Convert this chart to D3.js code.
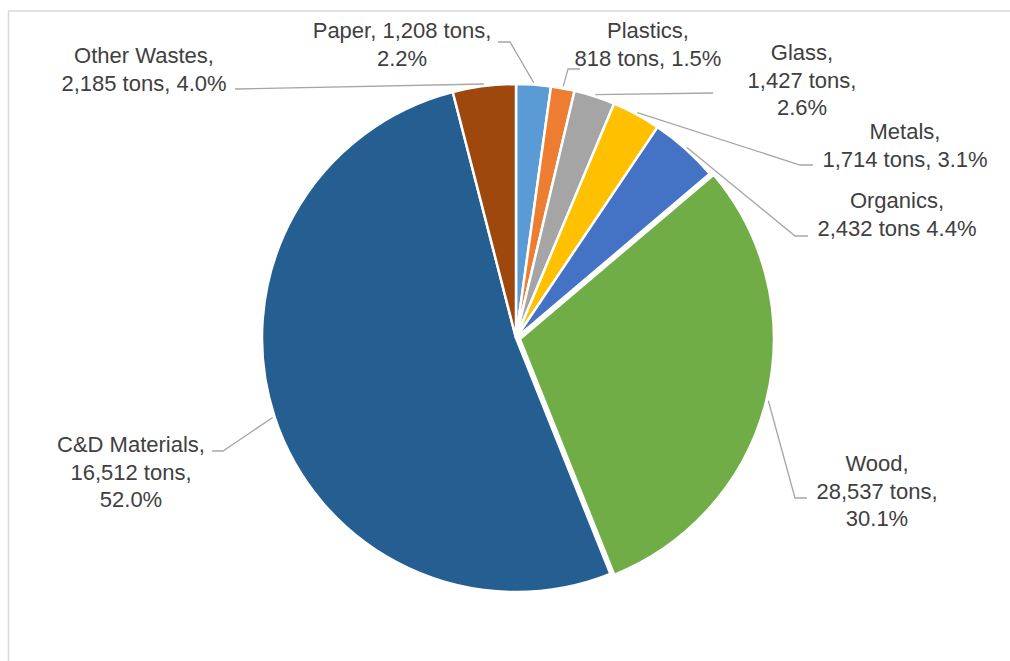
<!DOCTYPE html>
<html>
<head>
<meta charset="utf-8">
<script src="https://cdn.jsdelivr.net/npm/d3@7/dist/d3.min.js"></script>
<style>
  html, body { margin: 0; padding: 0; background: #ffffff; }
  svg { display: block; }
  text { font-family: "Liberation Sans", Arial, sans-serif; font-size: 22px; fill: #404040; }
</style>
</head>
<body>
<svg id="chart" width="1010" height="661"></svg>
<script>
// Waste composition by material
const categories = ["Paper", "Plastics", "Glass", "Metals", "Organics", "Wood", "C&D Materials", "Other Wastes"];
const tons = [1208, 818, 1427, 1714, 2432, 28537, 16512, 2185];
const percents = [2.2, 1.5, 2.6, 3.1, 4.4, 30.1, 52.0, 4.0];
const colors = ["#5B9BD5", "#ED7D31", "#A5A5A5", "#FFC000", "#4472C4", "#70AD47", "#255E91", "#9E480E"];

// How each label breaks into lines: {n} = name, {t} = tonnage, {p} = percent
const labelPatterns = [
  ["{n}, {t},", "{p}"],
  ["{n},", "{t}, {p}"],
  ["{n},", "{t},", "{p}"],
  ["{n},", "{t}, {p}"],
  ["{n},", "{t} {p}"],
  ["{n},", "{t},", "{p}"],
  ["{n},", "{t},", "{p}"],
  ["{n},", "{t}, {p}"]
];

// Label placement: text centre x, first baseline y, leader start and elbow
const labelLayout = [
  { x: 402, y: 38, start: [498, 42], elbow: [510, 42] },
  { x: 648, y: 38, start: [580, 69], elbow: [568, 69] },
  { x: 802, y: 60, start: [713, 93], elbow: null },
  { x: 905, y: 139, start: [813, 165], elbow: [800, 165] },
  { x: 897, y: 208, start: [808, 236], elbow: [795, 236] },
  { x: 877, y: 471, start: [807, 498], elbow: [795, 498] },
  { x: 131, y: 452, start: [212, 451], elbow: [223, 451] },
  { x: 144, y: 63, start: [235, 89], elbow: null }
];

const width = 1010, height = 661;
const cx = 516, cy = 338, radius = 254;
const explodeIndex = 5, explodeDist = 4;
const lineHeight = 27.5;

const svg = d3.select("#chart");

// Chart area frame
svg.append("rect")
  .attr("x", 8.5).attr("y", 11)
  .attr("width", width + 10).attr("height", height + 10)
  .attr("fill", "none")
  .attr("stroke", "#d9d9d9")
  .attr("stroke-width", 1.5);

const data = categories.map((c, i) => ({ name: c, tons: tons[i], pct: percents[i], color: colors[i], i }));

const pie = d3.pie().sort(null).value(d => d.pct);
const arcs = pie(data);
const arc = d3.arc().innerRadius(0).outerRadius(radius);

const g = svg.append("g").attr("transform", `translate(${cx},${cy})`);

g.selectAll("path.slice")
  .data(arcs)
  .join("path")
  .attr("class", "slice")
  .attr("d", arc)
  .attr("fill", d => d.data.color)
  .attr("stroke", "#ffffff")
  .attr("stroke-width", 2.5)
  .attr("stroke-linejoin", "round")
  .attr("transform", d => {
    if (d.data.i !== explodeIndex) return null;
    const a = (d.startAngle + d.endAngle) / 2;
    return `translate(${explodeDist * Math.sin(a)},${-explodeDist * Math.cos(a)})`;
  });

// Leader lines from label to slice edge
const fmt = d3.format(",");
function anchorPoint(d) {
  const a = (d.startAngle + d.endAngle) / 2;
  const r = radius + 2 + (d.data.i === explodeIndex ? explodeDist : 0);
  return [cx + r * Math.sin(a), cy - r * Math.cos(a)];
}

const leaders = svg.append("g");
arcs.forEach(d => {
  const L = labelLayout[d.data.i];
  const pts = [L.start];
  if (L.elbow) pts.push(L.elbow);
  pts.push(anchorPoint(d));
  leaders.append("path")
    .attr("d", d3.line()(pts))
    .attr("fill", "none")
    .attr("stroke", "#a6a6a6")
    .attr("stroke-width", 1.3);
});

// Data labels
const labels = svg.append("g");
data.forEach(d => {
  const L = labelLayout[d.i];
  const parts = { n: d.name, t: fmt(d.tons) + " tons", p: d.pct.toFixed(1) + "%" };
  const lines = labelPatterns[d.i].map(p => p.replace(/\{(\w)\}/g, (m, k) => parts[k]));
  const t = labels.append("text")
    .attr("text-anchor", "middle")
    .attr("x", L.x)
    .attr("y", L.y);
  lines.forEach((line, k) => {
    t.append("tspan")
      .attr("x", L.x)
      .attr("y", L.y + k * lineHeight)
      .text(line);
  });
});
</script>
</body>
</html>
